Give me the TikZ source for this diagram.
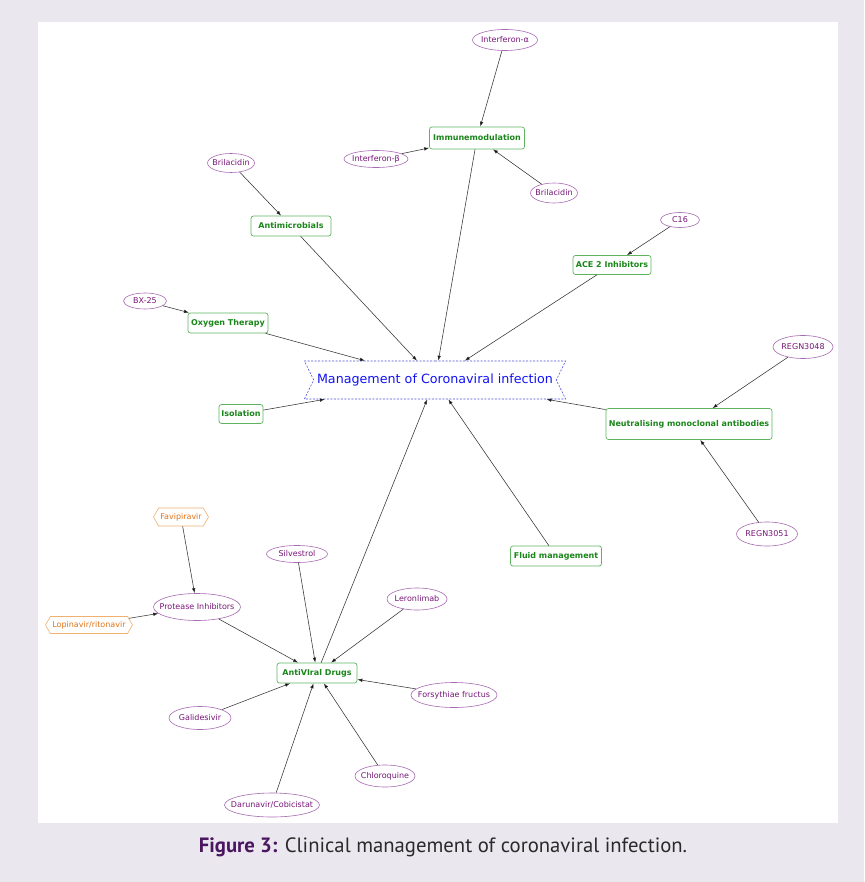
\documentclass[tikz,border=0pt]{standalone}
\usepackage{fontspec}
\setmainfont{DejaVu Sans}
\newfontfamily\capfont{PT Sans}
\usetikzlibrary{shapes.geometric,shapes.symbols,arrows.meta}

\definecolor{pagebg}{HTML}{EBE7EF}
\definecolor{boxline}{HTML}{5FB35F}
\definecolor{boxtext}{HTML}{1A861A}
\definecolor{drugline}{HTML}{A86BB3}
\definecolor{drugtext}{HTML}{781678}
\definecolor{trialline}{HTML}{F0B070}
\definecolor{trialtext}{HTML}{E27418}
\definecolor{bannerline}{HTML}{5050D8}
\definecolor{bannertext}{HTML}{1212F2}
\definecolor{linecol}{HTML}{333333}
\definecolor{figlab}{HTML}{4B1660}
\definecolor{captext}{HTML}{2A2A2A}

\begin{document}
\begin{tikzpicture}[x=1pt,y=-1pt,>={Latex[length=5pt,width=3.5pt]}]
	\tikzstyle{group} = [draw=boxline,line width=0.7pt,rounded corners=2.5pt,text=boxtext,font=\bfseries\fontsize{8}{9}\selectfont,inner sep=1pt]
	\tikzstyle{drug} = [ellipse,draw=drugline,line width=0.6pt,text=drugtext,font=\fontsize{8}{9}\selectfont,inner sep=-10pt]
	\tikzstyle{trial} = [signal,signal to=west and east,signal pointer angle=120,draw=trialline,line width=0.6pt,text=trialtext,font=\fontsize{8}{9}\selectfont,inner sep=1pt]
	\tikzstyle{link} = [->,draw=linecol,line width=0.55pt]
	
	% page and panel
	\useasboundingbox (0,0) rectangle (864,882);
	\fill[pagebg] (0,0) rectangle (864,882);
	\fill[white] (38,22) rectangle (838,823);
	
	\node[signal,signal to=nowhere,signal from=west and east,signal pointer angle=128,draw=bannerline,line width=0.6pt,dash pattern=on 2pt off 1.5pt,text=bannertext,minimum width=261,minimum height=38,font=\fontsize{12.7}{15}\selectfont] (main) at (435,380) {Management of Coronaviral infection};
	
	% groups
	\node[group,minimum width=95,minimum height=22] (imm) at (477,138) {Immunemodulation};
	\node[group,minimum width=80,minimum height=20] (anti) at (291,226) {Antimicrobials};
	\node[group,minimum width=78,minimum height=19] (ace) at (612,265) {ACE 2 Inhibitors};
	\node[group,minimum width=80,minimum height=20] (oxy) at (228,323) {Oxygen Therapy};
	\node[group,minimum width=44,minimum height=19] (iso) at (241,414) {Isolation};
	\node[group,minimum width=166,minimum height=31] (neut) at (689,424) {Neutralising monoclonal antibodies};
	\node[group,minimum width=91,minimum height=20] (fluid) at (556,556) {Fluid management};
	\node[group,minimum width=80,minimum height=20] (av) at (317,673) {AntiVIral Drugs};
	
	% drugs
	\node[drug,minimum width=65,minimum height=21] (ifa) at (505,40) {Interferon-α};
	\node[drug,minimum width=64,minimum height=17] (ifb) at (376,159) {Interferon-β};
	\node[drug,minimum width=47,minimum height=20] (bril2) at (554,193) {Brilacidin};
	\node[drug,minimum width=47,minimum height=19] (bril1) at (231,163) {Brilacidin};
	\node[drug,minimum width=39,minimum height=15] (c16) at (680,220) {C16};
	\node[drug,minimum width=43,minimum height=16] (bx) at (145,301) {BX-25};
	\node[drug,minimum width=60,minimum height=23] (r48) at (803,347) {REGN3048};
	\node[drug,minimum width=61,minimum height=24] (r51) at (767,534) {REGN3051};
	\node[drug,minimum width=61,minimum height=17] (silv) at (297,554) {Silvestrol};
	\node[drug,minimum width=60,minimum height=22] (leron) at (417,599) {Leronlimab};
	\node[drug,minimum width=87,minimum height=27] (prot) at (197,607) {Protease Inhibitors};
	\node[drug,minimum width=86,minimum height=25] (fors) at (454,695) {Forsythiae fructus};
	\node[drug,minimum width=62,minimum height=23] (gali) at (200,718) {Galidesivir};
	\node[drug,minimum width=60,minimum height=22] (chlo) at (385,776) {Chloroquine};
	\node[drug,minimum width=95,minimum height=24] (daru) at (272,805) {Darunavir/Cobicistat};
	
	\node[trial,minimum width=55,minimum height=18] (favi) at (181,517) {Favipiravir};
	\node[trial,minimum width=87,minimum height=17] (lopi) at (89,625) {Lopinavir/ritonavir};
	
	% links
	\path[link] (ifa) edge (imm);
	\path[link] (ifb) edge (imm);
	\path[link] (bril2) edge (imm);
	\path[link] (bril1) edge (anti);
	\path[link] (c16) edge (ace);
	\path[link] (bx) edge (oxy);
	\path[link] (r48) edge (neut);
	\path[link] (r51) edge (neut);
	\path[link] (favi) edge (prot);
	\path[link] (lopi) edge (prot);
	\path[link] (prot) edge (av);
	\path[link] (silv) edge (av);
	\path[link] (leron) edge (av);
	\path[link] (fors) edge (av);
	\path[link] (gali) edge (av);
	\path[link] (chlo) edge (av);
	\path[link] (daru) edge (av);
	
	\path[link] (imm) edge (main);
	\path[link] (anti) edge (main);
	\path[link] (ace) edge (main);
	\path[link] (oxy) edge (main);
	\path[link] (iso) edge (main);
	\path[link] (neut) edge (main);
	\path[link] (fluid) edge (main);
	\path[link] (av) edge (main);
	
	\node[font=\capfont\fontsize{20.7}{24}\selectfont,text=captext] (caption) at (443,847) {\textcolor{figlab}{\bfseries Figure 3:} Clinical management of coronaviral infection.};
\end{tikzpicture}
\end{document}
